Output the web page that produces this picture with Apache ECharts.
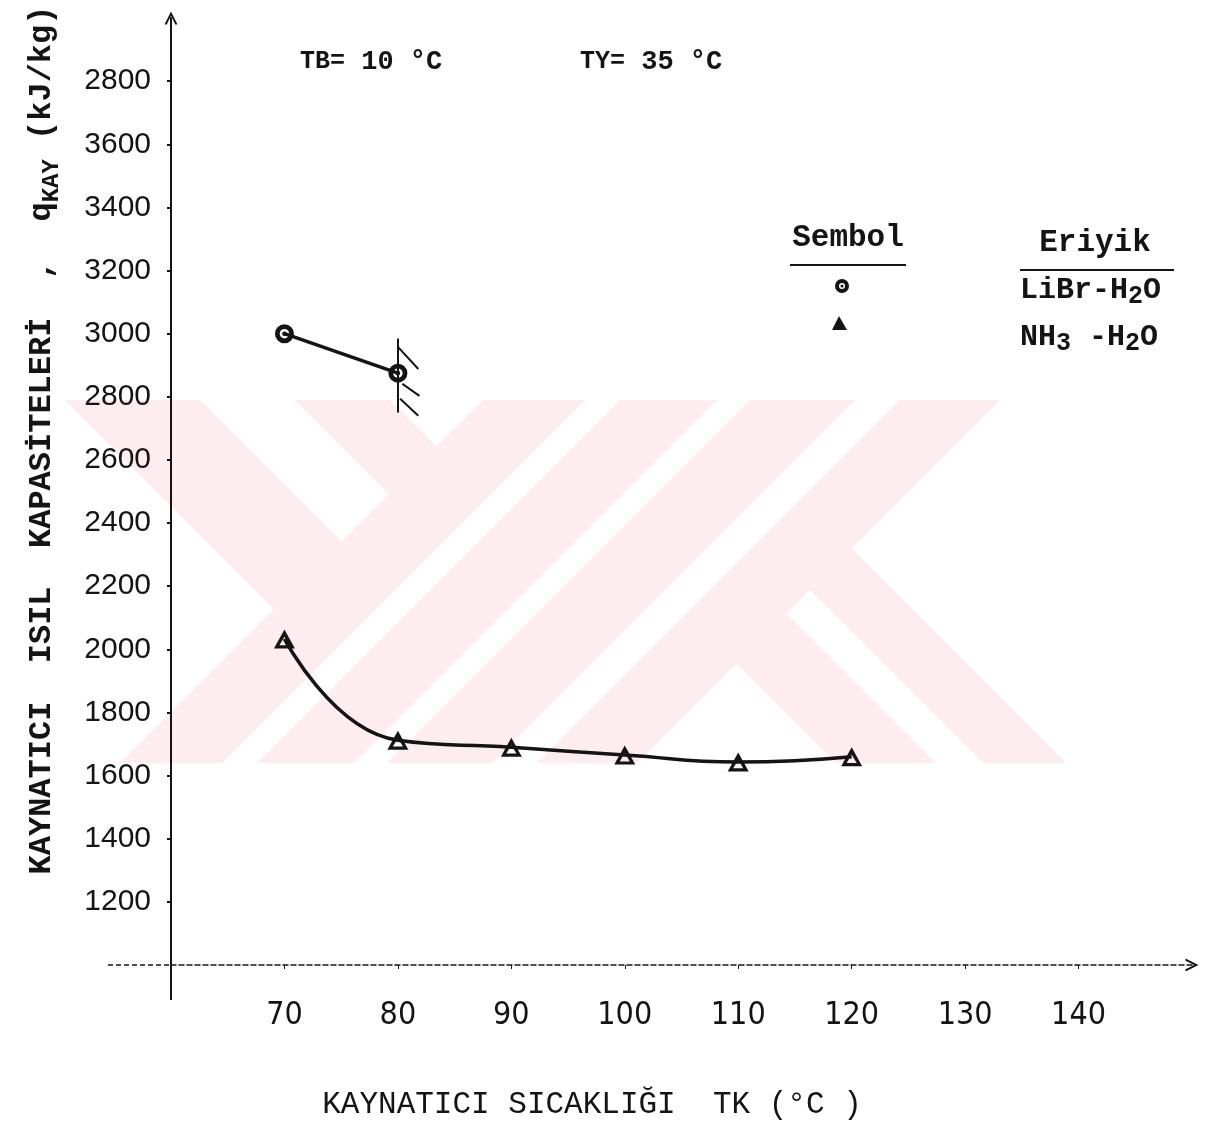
<!DOCTYPE html>
<html><head><meta charset="utf-8">
<script src="https://cdn.jsdelivr.net/npm/echarts@6/dist/echarts.min.js"></script>
<style>html,body{margin:0;padding:0;background:#fff}#c{width:1206px;height:1124px}</style>
</head><body><div id="c"></div>
<script>
// ---- data ----
const libTk = [70, 80];
const librValues = [3000, 2875];
const nh3Tk = [70, 80, 90, 100, 110, 120];
const nh3Values = [2033, 1712, 1690, 1665, 1643, 1660];
const xTickValues = [70, 80, 90, 100, 110, 120, 130, 140];
const yTickValues = [1200, 1400, 1600, 1800, 2000, 2200, 2400, 2600, 2800, 3000, 3200, 3400, 3600, 3800];
const yTickLabels = ['1200', '1400', '1600', '1800', '2000', '2200', '2400', '2600', '2800', '3000', '3200', '3400', '3600', '2800'];
// crystallisation limit mark at TK = 80 (vertical stroke + hatches), data coords
const limitSegments = [
  [[80, 2985], [80, 2750]],
  [[80, 2958], [81.8, 2888]],
  [[80.4, 2841], [81.9, 2803]],
  [[80.2, 2794], [81.8, 2740]]
];

const MONO = '"Liberation Mono", "DejaVu Sans Mono", monospace';
const INK = '#141414';
const PINK = '#fdecf0';

const bullseye = 'path://M0,10 A10,10 0 1,1 20,10 A10,10 0 1,1 0,10 Z M5,10 A5,5 0 1,0 15,10 A5,5 0 1,0 5,10 Z M7.6,10 A2.4,2.4 0 1,1 12.4,10 A2.4,2.4 0 1,1 7.6,10 Z';
const hollowTri = 'path://M10,0 L20,18 L0,18 Z M10,7 L5.2,15 L14.8,15 Z';
const chevron = 'path://M0,14 L7,0 L14,14 L11.6,14 L7,4.6 L2.4,14 Z';

// watermark (decorative background logo)
const wm = [
  [[65,400],[200,400],[341.5,541.5],[274,609]],
  [[295,400],[390,400],[436.5,446.5],[389,494]],
  [[483,400],[585,400],[222,763],[120,763]],
  [[620,400],[717,400],[354,763],[257,763]],
  [[750,400],[855,400],[492,763],[387,763]],
  [[900,400],[1000,400],[637,763],[537,763]],
  [[736.5,663.5],[786.5,613.5],[936,763],[836,763]],
  [[810,590],[851.5,548.5],[1066,763],[983,763]]
];

const chart = echarts.init(document.getElementById('c'));
const graphics = [];
wm.forEach(p => graphics.push({type:'polygon', z:-100, silent:true, shape:{points:p}, style:{fill:PINK}}));
// axis overshoot (axes cross each other)
graphics.push({type:'line', shape:{x1:171, y1:965, x2:171, y2:1000}, style:{stroke:INK, lineWidth:2}});
graphics.push({type:'line', shape:{x1:108, y1:965, x2:171, y2:965}, style:{stroke:INK, lineWidth:1.5, lineDash:[5,3]}});
// top notes
graphics.push({type:'text', x:300, y:62, style:{text:'{a|TB=}{b| 10 °C}', verticalAlign:'middle',
  rich:{a:{font:'bold 25px ' + MONO, fill:INK}, b:{font:'bold 27px ' + MONO, fill:INK}}}});
graphics.push({type:'text', x:580, y:62, style:{text:'{a|TY=}{b| 35 °C}', verticalAlign:'middle',
  rich:{a:{font:'bold 25px ' + MONO, fill:INK}, b:{font:'bold 27px ' + MONO, fill:INK}}}});
// legend table
graphics.push({type:'text', x:848, y:238, style:{text:'Sembol', font:'bold 31px ' + MONO, fill:INK, align:'center', verticalAlign:'middle'}});
graphics.push({type:'line', shape:{x1:790, y1:265, x2:906, y2:265}, style:{stroke:INK, lineWidth:2}});
graphics.push({type:'text', x:1095, y:243, style:{text:'Eriyik', font:'bold 31px ' + MONO, fill:INK, align:'center', verticalAlign:'middle'}});
graphics.push({type:'line', shape:{x1:1020, y1:270, x2:1174, y2:270}, style:{stroke:INK, lineWidth:2}});
graphics.push({type:'ring', shape:{cx:842, cy:286, r:7, r0:3}, style:{fill:INK}});
graphics.push({type:'circle', shape:{cx:842, cy:286, r:1.5}, style:{fill:INK}});
graphics.push({type:'polygon', shape:{points:[[839,316],[832,330],[847,330]]}, style:{fill:INK}});
const richSub = {
  n:{font:'bold 30px ' + MONO, fill:INK, lineHeight:38, verticalAlign:'middle'},
  s:{font:'bold 25px ' + MONO, fill:INK, lineHeight:22, verticalAlign:'bottom'}
};
graphics.push({type:'text', x:1020, y:290, style:{text:'{n|LiBr-H}{s|2}{n|O}', rich:richSub, verticalAlign:'middle'}});
graphics.push({type:'text', x:1020, y:337, style:{text:'{n|NH}{s|3}{n| -H}{s|2}{n|O}', rich:richSub, verticalAlign:'middle'}});
// axis titles
graphics.push({type:'text', x:42, y:440, rotation:Math.PI/2, style:{
  text:'{n|KAYNATICI  ISIL  KAPASİTELERİ  ,  q}{s|KAY}{n| (kJ/kg)}',
  align:'center', verticalAlign:'middle',
  rich:{
    n:{font:'bold 32px ' + MONO, fill:INK, lineHeight:44, verticalAlign:'middle'},
    s:{font:'bold 24px ' + MONO, fill:INK, lineHeight:22, verticalAlign:'bottom'}
  }}});
graphics.push({type:'text', x:592, y:1105, style:{text:'KAYNATICI SICAKLIĞI  TK (°C )', font:'31px ' + MONO, fill:INK, align:'center', verticalAlign:'middle'}});

chart.setOption({
  animation:false,
  backgroundColor:'#fff',
  grid:{left:171, right:14, top:18, bottom:159, containLabel:false},
  xAxis:{
    type:'value', min:60, max:150, interval:10,
    splitLine:{show:false},
    axisLine:{show:true, onZero:false, symbol:['none', chevron], symbolSize:[13,16], lineStyle:{color:INK, width:1.5, type:[5,3]}},
    axisTick:{show:true, customValues:xTickValues, length:4, inside:false, lineStyle:{color:INK, width:1}},
    axisLabel:{customValues:xTickValues, margin:35, color:INK, fontSize:32, fontFamily:'"Liberation Sans Narrow", "DejaVu Sans Condensed", sans-serif'}
  },
  yAxis:{
    type:'value', min:1000, max:4000, interval:200,
    splitLine:{show:false},
    axisLine:{show:true, onZero:false, symbol:['none', chevron], symbolSize:[13,16], lineStyle:{color:INK, width:2}},
    axisTick:{show:true, customValues:yTickValues, length:4, lineStyle:{color:INK, width:2}},
    axisLabel:{customValues:yTickValues, margin:20, color:INK, fontSize:30, fontFamily:'"Liberation Sans", sans-serif',
      formatter:v => { const i = yTickValues.indexOf(v); return i >= 0 ? yTickLabels[i] : ''; }}
  },
  graphic:{elements:graphics},
  series:[
    {
      name:'LiBr-H2O', type:'line', z:5,
      data:libTk.map((t,i) => [t, librValues[i]]),
      symbol:bullseye, symbolSize:19, symbolKeepAspect:true,
      itemStyle:{color:INK},
      lineStyle:{color:INK, width:3.5},
      markLine:{silent:true, symbol:'none', label:{show:false},
        lineStyle:{color:INK, width:2, type:'solid'},
        data:limitSegments.map(s => [{coord:s[0]}, {coord:s[1]}])}
    },
    {
      name:'NH3-H2O', type:'line', z:5, smooth:0.5,
      data:nh3Tk.map((t,i) => [t, nh3Values[i]]),
      symbol:hollowTri, symbolSize:[21,19], symbolKeepAspect:false,
      itemStyle:{color:INK},
      lineStyle:{color:INK, width:3.5}
    }
  ]
});
</script>
</body></html>
